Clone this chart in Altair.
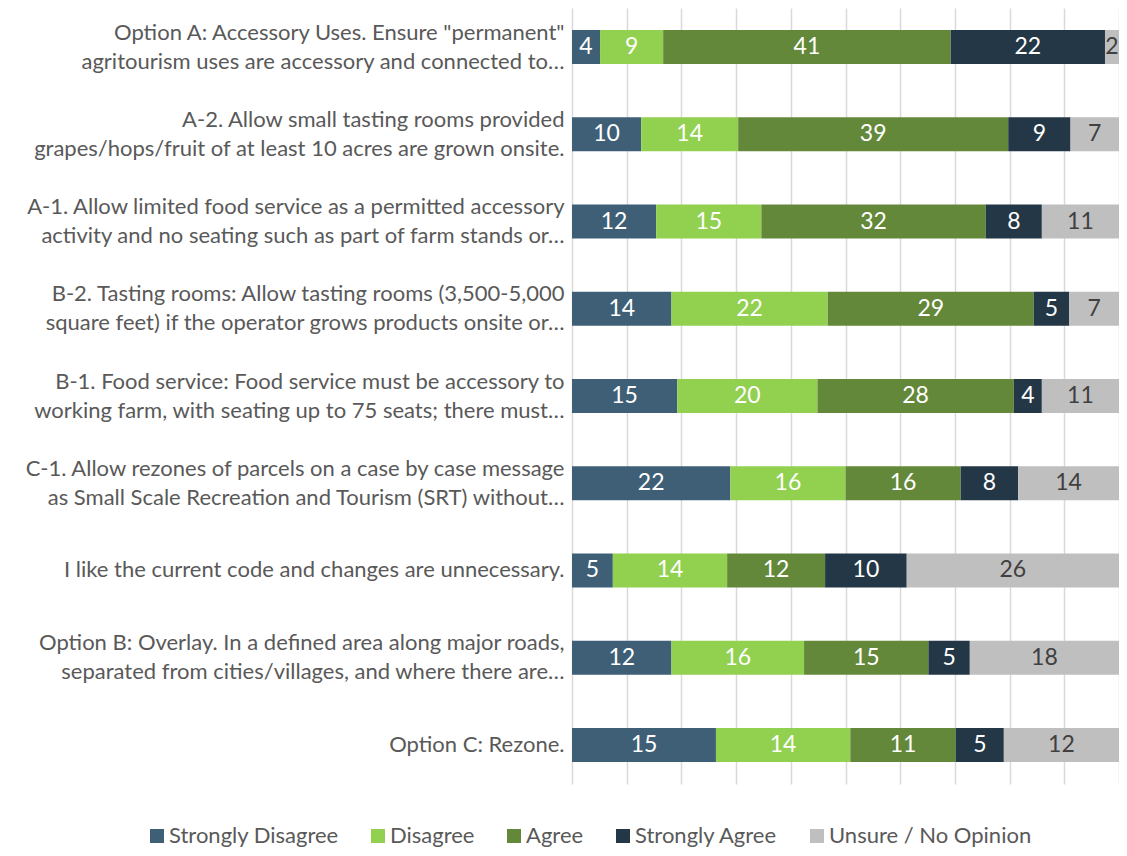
import altair as alt
import pandas as pd

questions = [
    'Option A: Accessory Uses. Ensure "permanent"|agritourism uses are accessory and connected to…',
    'A-2. Allow small tasting rooms provided|grapes/hops/fruit of at least 10 acres are grown onsite.',
    'A-1. Allow limited food service as a permitted accessory|activity and no seating such as part of farm stands or…',
    'B-2. Tasting rooms: Allow tasting rooms (3,500-5,000|square feet) if the operator grows products onsite or…',
    'B-1. Food service: Food service must be accessory to|working farm, with seating up to 75 seats; there must…',
    'C-1. Allow rezones of parcels on a case by case message|as Small Scale Recreation and Tourism (SRT) without…',
    'I like the current code and changes are unnecessary.',
    'Option B: Overlay. In a defined area along major roads,|separated from cities/villages, and where there are…',
    'Option C: Rezone.',
]
categories = ['Strongly Disagree', 'Disagree', 'Agree', 'Strongly Agree', 'Unsure / No Opinion']
strongly_disagree = [4, 10, 12, 14, 15, 22, 5, 12, 15]
disagree = [9, 14, 15, 22, 20, 16, 14, 16, 14]
agree = [41, 39, 32, 29, 28, 16, 12, 15, 11]
strongly_agree = [22, 9, 8, 5, 4, 8, 10, 5, 5]
unsure = [2, 7, 11, 7, 11, 14, 26, 18, 12]
colors = ['#3F5F77', '#92D050', '#64883A', '#243746', '#BFBFBF']

series = [strongly_disagree, disagree, agree, strongly_agree, unsure]
rows = []
for ci, (cat, vals) in enumerate(zip(categories, series)):
    for q, v in zip(questions, vals):
        rows.append({'q': q, 'cat': cat, 'value': v, 'order': ci})
df = pd.DataFrame(rows)

base = alt.Chart(df).transform_joinaggregate(
    total='sum(value)', groupby=['q']
).transform_window(
    cum='sum(value)', groupby=['q'], sort=[alt.SortField('order')], frame=[None, 0]
).transform_calculate(
    x1='(datum.cum - datum.value) / datum.total',
    x2='datum.cum / datum.total',
    xm='(datum.cum - datum.value / 2) / datum.total',
)

y_enc = alt.Y(
    'q:N', sort=questions,
    scale=alt.Scale(paddingInner=0.61, paddingOuter=0.252),
    axis=alt.Axis(
        title=None, labelExpr="split(datum.label, '|')", labelFont='Lato',
        labelFontSize=22, labelColor='#595959', labelLineHeight=29,
        ticks=False, domain=False, labelPadding=8, labelLimit=0,
        labelOffset={'condition': {'test': "indexof(datum.label, '|') >= 0", 'value': -14.5}, 'value': 0},
    ),
)

bars = base.mark_bar().encode(
    x=alt.X('x1:Q', scale=alt.Scale(domain=[0, 1], nice=False),
            axis=alt.Axis(title=None, labels=False, ticks=False, domain=False,
                          values=[i / 10 for i in range(11)],
                          gridColor='#D9D9D9', gridWidth=1.5)),
    x2='x2:Q',
    y=y_enc,
    color=alt.Color('cat:N', sort=categories,
                    scale=alt.Scale(domain=categories, range=colors),
                    legend=alt.Legend(orient='none', legendX=-426, legendY=817,
                                      direction='horizontal', title=None,
                                      symbolType='square', symbolSize=196,
                                      symbolStrokeWidth=0, labelLimit=0,
                                      labelFont='Lato', labelFontSize=22,
                                      labelColor='#595959', columnPadding=28,
                                      labelOffset=1)),
)

labels = base.mark_text(font='Lato', fontSize=23, baseline='middle').encode(
    x=alt.X('xm:Q'),
    y=alt.Y('q:N', sort=questions),
    text='value:Q',
    color=alt.condition("datum.cat == 'Unsure / No Opinion'",
                        alt.value('#404040'), alt.value('#FFFFFF')),
)

chart = alt.layer(bars, labels).properties(
    width=547, height=776,
    autosize=alt.AutoSizeParams(type='none'),
    padding={'left': 564, 'top': 0, 'right': 0, 'bottom': 64},
    background='white',
).configure_view(stroke=None)

chart.save('out.html', embed_options={'renderer': 'svg', 'actions': False})
